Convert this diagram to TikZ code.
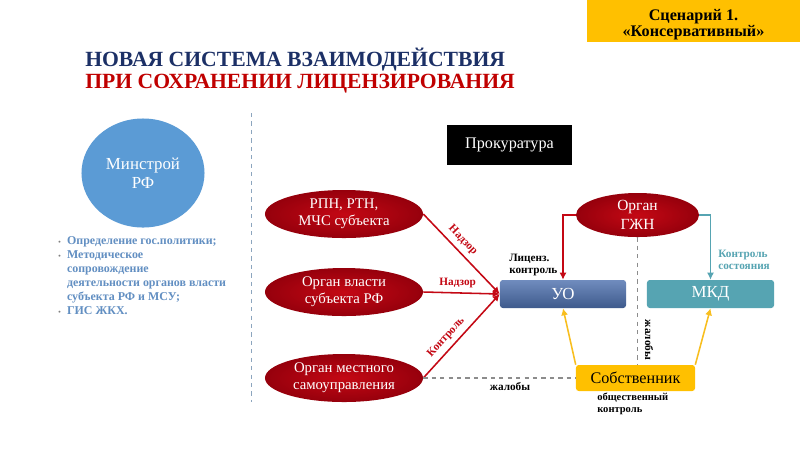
\documentclass[tikz,border=0pt]{standalone}
\usepackage{fontspec}
\setmainfont{Liberation Serif}
\usepackage{xcolor}
\usetikzlibrary{shapes.geometric,arrows.meta}

\definecolor{titleblue}{RGB}{28,48,102}
\definecolor{titlered}{RGB}{192,0,0}
\definecolor{scenyellow}{RGB}{255,192,0}
\definecolor{minblue}{RGB}{91,155,213}
\definecolor{listblue}{RGB}{98,143,194}
\definecolor{orgred}{RGB}{196,8,20}
\definecolor{orgdark}{RGB}{150,0,12}
\definecolor{uotop}{RGB}{112,140,190}
\definecolor{uobot}{RGB}{62,90,140}
\definecolor{mkdteal}{RGB}{86,164,178}
\definecolor{ownyellow}{RGB}{248,190,30}
\definecolor{dashgray}{RGB}{140,140,140}
\definecolor{sepblue}{RGB}{140,165,190}

\begin{document}
\begin{tikzpicture}[x=0.025cm, y=-0.025cm,
  org/.style={ellipse, inner sep=0pt, minimum width=3.95cm, minimum height=1.2cm,
    inner color=orgred, outer color=orgdark, text=white, align=center,
    font=\fontsize{10.5}{12}\selectfont},
  unitbox/.style={rectangle, rounded corners=2pt, inner sep=0pt, minimum height=0.7cm,
    text=white, font=\fontsize{12}{14}\selectfont},
  lbl/.style={font=\fontsize{8}{8.5}\selectfont\bfseries, align=left},
  redline/.style={orgred, line width=1.1pt, -{Latex[length=5pt,width=5pt]}},
  yelline/.style={ownyellow, line width=1.1pt, -{Latex[length=5pt,width=5pt]}},
  grayline/.style={dashgray, dashed, line width=0.8pt}
]
  % Background and frame
  \fill[white] (0,0) rectangle (800,450);
  \useasboundingbox (0,0) rectangle (800,450);

  % Scenario tag and title
  \node[rectangle, fill=scenyellow, minimum width=5.325cm, minimum height=1.05cm, inner sep=0pt]
    (scen) at (693.5,21) {};
  \node[align=center, inner sep=0pt, font=\fontsize{11.5}{11.5}\selectfont\bfseries]
    (scentext) at (693.5,25) {Сценарий 1.\\«Консервативный»};
  \node[anchor=base west, inner sep=0pt, text=titleblue, font=\fontsize{15.4}{18}\selectfont\bfseries]
    (title1) at (85,66.5) {НОВАЯ СИСТЕМА ВЗАИМОДЕЙСТВИЯ};
  \node[anchor=base west, inner sep=0pt, text=titlered, font=\fontsize{15.4}{18}\selectfont\bfseries]
    (title2) at (85,88) {ПРИ СОХРАНЕНИИ ЛИЦЕНЗИРОВАНИЯ};

  % Left part: ministry and its tasks
  \node[ellipse, fill=minblue, minimum width=3.075cm, minimum height=2.725cm, text=white,
    align=center, font=\fontsize{12}{13.5}\selectfont] (minstroy) at (143,173) {Минстрой\\РФ};
  \node[anchor=north west, inner sep=0pt, text=listblue, font=\fontsize{8.5}{10}\selectfont\bfseries]
    (tasks) at (58,234) {%
    \begin{tabular}{@{}l@{\hspace{4.5pt}}l@{}}
      \textcolor{gray}{\tiny\textbullet} & Определение гос.политики;\\
      \textcolor{gray}{\tiny\textbullet} & Методическое\\
      & сопровождение\\
      & деятельности органов власти\\
      & субъекта РФ и МСУ;\\
      \textcolor{gray}{\tiny\textbullet} & ГИС ЖКХ.
    \end{tabular}};
  \draw[sepblue, dashed, line width=0.7pt] (251,113) -- (251,402);

  % Right part: bodies
  \node[rectangle, fill=black, text=white, minimum width=3.125cm, minimum height=1cm,
    font=\fontsize{11.5}{13}\selectfont] (prok) at (509.5,145) {Прокуратура};
  \node[org] (rpn) at (344,214) {РПН, РТН,\\МЧС субъекта};
  \node[org] (vlast) at (344,292) {Орган власти\\субъекта РФ};
  \node[org] (msu) at (344,378) {Орган местного\\самоуправления};
  \node[org, minimum width=3.075cm, minimum height=1.1cm, font=\fontsize{11}{13}\selectfont]
    (gzhn) at (637.5,215) {Орган\\ГЖН};
  \node[unitbox, minimum width=3.15cm, top color=uotop, bottom color=uobot] (uo) at (563,294) {УО};
  \node[unitbox, minimum width=3.175cm, fill=mkdteal] (mkd) at (710.5,294) {МКД};
  \node[unitbox, minimum width=2.975cm, minimum height=0.65cm, fill=scenyellow, text=black,
    font=\fontsize{11.5}{13}\selectfont] (sobst) at (635.5,378) {Собственник};

  % Connectors
  \draw[redline] (rpn.east) -- node[lbl, text=orgred, sloped, above, pos=0.42] {Надзор} (uo.west);
  \draw[redline] (vlast.east) -- node[lbl, text=orgred, above, pos=0.45] {Надзор} (uo.west);
  \draw[redline] (msu.east) -- node[lbl, text=orgred, sloped, above, pos=0.4] {Контроль} (uo.west);
  \draw[redline] (gzhn.west) -| (uo.north);
  \draw[mkdteal, line width=1.1pt, -{Latex[length=5pt,width=5pt]}] (gzhn.east) -| (mkd.north);
  \draw[yelline] (sobst.north west) -- (uo.south);
  \draw[yelline] (sobst.north east) -- (mkd.south);
  \draw[grayline] (gzhn.south) -- (gzhn.south |- sobst.north);
  \draw[grayline] (msu.east) -- (msu.east -| sobst.west);

  % Labels
  \node[lbl, anchor=north west, inner sep=0pt] (lic) at (509,254) {Лиценз.\\контроль};
  \node[lbl, anchor=north west, inner sep=0pt, text=mkdteal] (sost) at (718,250) {Контроль\\состояния};
  \node[lbl, anchor=north west, inner sep=0pt, font=\fontsize{7.5}{8}\selectfont\bfseries]
    (obsh) at (597,393) {общественный\\контроль};
  \node[lbl] (zhal1) at (510,387) {жалобы};
  \node[lbl, rotate=-90] (zhal2) at (649,340) {жалобы};
\end{tikzpicture}
\end{document}
